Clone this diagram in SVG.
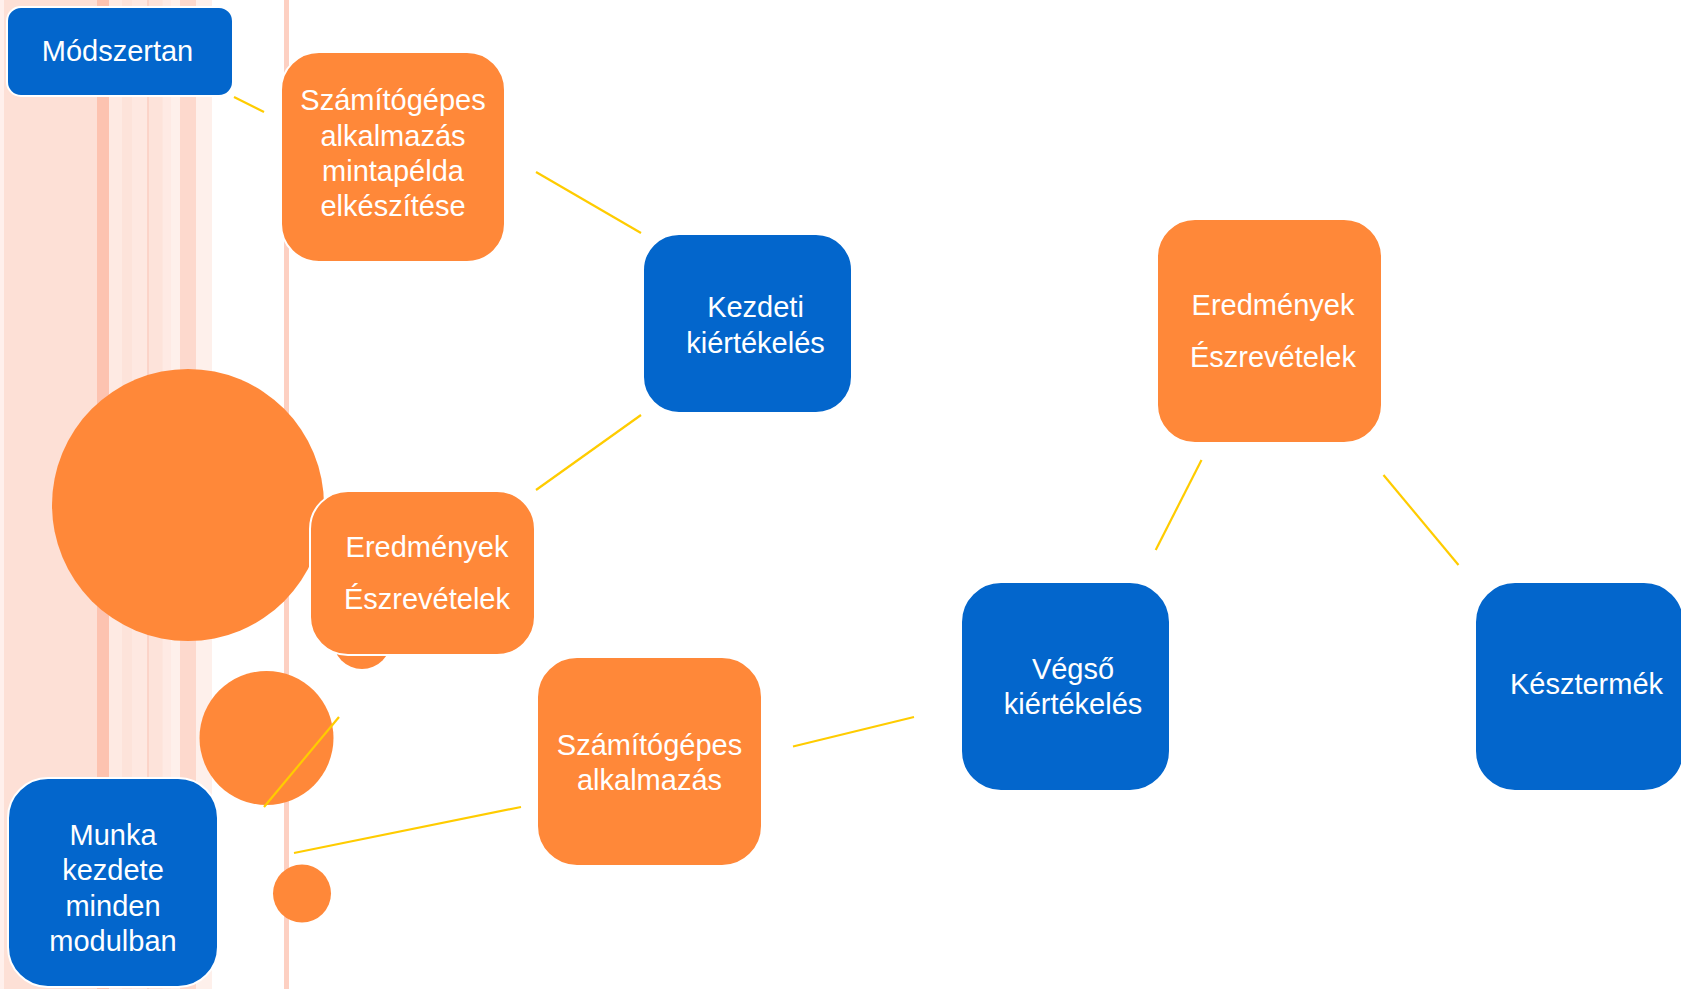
<svg xmlns="http://www.w3.org/2000/svg" width="1681" height="989" viewBox="0 0 1681 989">
<style>
.box{stroke:#ffffff;stroke-width:2}
.blue{fill:#0366cc}
.orange{fill:#ff8839}
.circ{fill:#ff8839}
.t{font-family:"Liberation Sans",Arial,sans-serif;font-size:29px;fill:#ffffff;text-anchor:middle}
.conn line{stroke:#ffcc00;stroke-width:2.2;fill:none}
</style>
<rect x="0" y="0" width="1681" height="989" fill="#ffffff"/>
<g id="background">
<rect x="0" y="0" width="212" height="989" fill="#fde0d6"/>
<rect x="0" y="0" width="4" height="989" fill="#fff0ec"/>
<rect x="97" y="0" width="12" height="989" fill="#fdc3b0"/>
<rect x="109" y="0" width="13" height="989" fill="#feeae3"/>
<rect x="122" y="0" width="10" height="989" fill="#fde3da"/>
<rect x="132" y="0" width="15.5" height="989" fill="#fee8e1"/>
<rect x="147.5" y="0" width="1.2" height="989" fill="#f9c4b5"/>
<rect x="148.7" y="0" width="13.8" height="989" fill="#fde3da"/>
<rect x="162.5" y="0" width="8.5" height="989" fill="#feeae4"/>
<rect x="171" y="0" width="9" height="989" fill="#fef0eb"/>
<rect x="180" y="0" width="16" height="989" fill="#fdd9cd"/>
<rect x="196" y="0" width="16" height="989" fill="#fef0eb"/>
<rect x="284" y="0" width="5" height="989" fill="#fdd0c2"/>
</g>
<g id="circles">
<circle cx="188" cy="505" r="136" class="circ"/>
<circle cx="362" cy="640" r="29" class="circ"/>
<circle cx="266.5" cy="738" r="67" class="circ"/>
<circle cx="302" cy="893.5" r="29" class="circ"/>
</g>
<g id="connectors" class="conn">
<line x1="234" y1="97" x2="264" y2="112"/>
<line x1="536" y1="172" x2="641" y2="233"/>
<line x1="536" y1="490" x2="641" y2="415"/>
<line x1="339" y1="717" x2="264" y2="807"/>
<line x1="294" y1="853" x2="521" y2="807"/>
<line x1="793" y1="746.5" x2="914" y2="717"/>
<line x1="1201.5" y1="460" x2="1155.7" y2="550"/>
<line x1="1383.5" y1="475" x2="1458.5" y2="565"/>
</g>
<g id="modszertan">
<rect x="7" y="7" width="226" height="89" rx="14" class="box blue"/>
<text x="117.5" y="61" class="t">Módszertan</text>
</g>
<g id="mintapelda">
<rect x="281" y="52" width="224" height="210" rx="38" class="box orange"/>
<text class="t"><tspan x="393" y="110">Számítógépes</tspan><tspan x="393" y="146">alkalmazás</tspan><tspan x="393" y="181">mintapélda</tspan><tspan x="393" y="216">elkészítése</tspan></text>
</g>
<g id="kezdeti">
<rect x="643" y="234" width="209" height="179" rx="36" class="box blue"/>
<text class="t"><tspan x="755.5" y="317">Kezdeti</tspan><tspan x="755.5" y="353">kiértékelés</tspan></text>
</g>
<g id="eredmenyek1">
<rect x="310" y="491" width="225" height="164" rx="38" class="box orange"/>
<text class="t"><tspan x="427" y="557">Eredmények</tspan><tspan x="427" y="609">Észrevételek</tspan></text>
</g>
<g id="munka">
<rect x="8" y="778" width="210" height="209" rx="40" class="box blue"/>
<text class="t"><tspan x="113" y="845">Munka</tspan><tspan x="113" y="880">kezdete</tspan><tspan x="113" y="916">minden</tspan><tspan x="113" y="951">modulban</tspan></text>
</g>
<g id="alkalmazas">
<rect x="537" y="657" width="225" height="209" rx="40" class="box orange"/>
<text class="t"><tspan x="649.5" y="755">Számítógépes</tspan><tspan x="649.5" y="790">alkalmazás</tspan></text>
</g>
<g id="vegso">
<rect x="961" y="582" width="209" height="209" rx="40" class="box blue"/>
<text class="t"><tspan x="1073" y="679">Végső</tspan><tspan x="1073" y="714">kiértékelés</tspan></text>
</g>
<g id="eredmenyek2">
<rect x="1157" y="219" width="225" height="224" rx="38" class="box orange"/>
<text class="t"><tspan x="1273" y="315">Eredmények</tspan><tspan x="1273" y="367">Észrevételek</tspan></text>
</g>
<g id="keszermek">
<rect x="1475" y="582" width="209" height="209" rx="40" class="box blue"/>
<text x="1586.5" y="694" class="t">Késztermék</text>
</g>
</svg>
